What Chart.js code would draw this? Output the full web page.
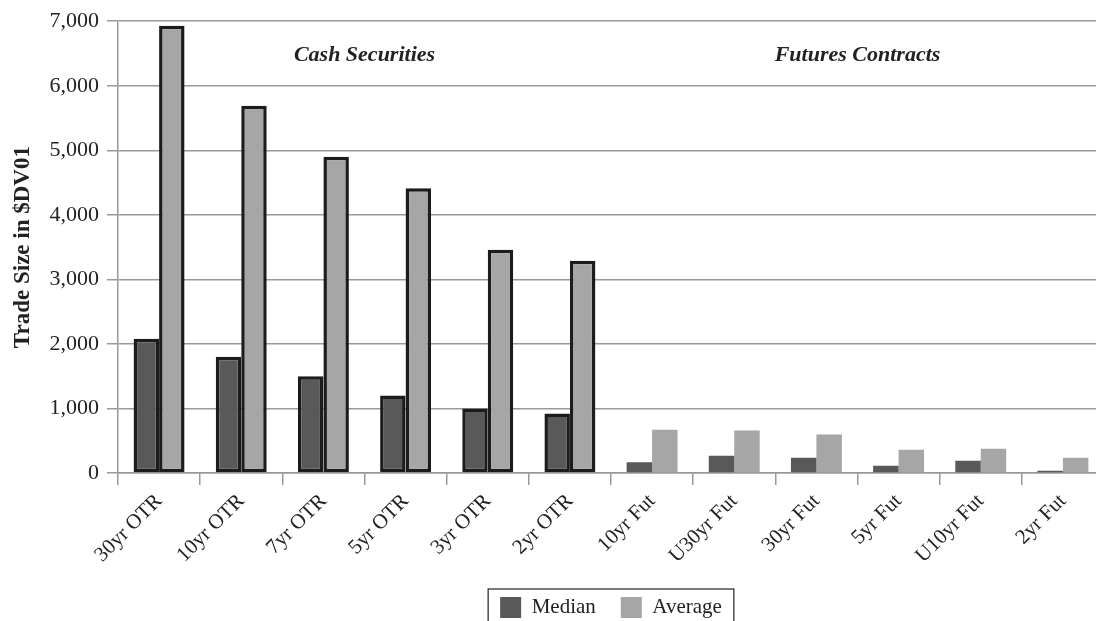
<!DOCTYPE html>
<html lang="en">
<head>
    <meta charset="UTF-8">
    <title>Trade Size in $DV01</title>
    <script src="https://cdn.jsdelivr.net/npm/chart.js@4.4.1/dist/chart.umd.min.js"></script>
    <style>
        html, body {
            margin: 0;
            padding: 0;
            background: #fff;
            overflow: hidden;
        }
        #chart {
            display: block;
        }
    </style>
</head>
<body>
    <canvas id="chart" width="1106" height="628"></canvas>

    <script>
        // Data
        const categories = ['30yr OTR', '10yr OTR', '7yr OTR', '5yr OTR', '3yr OTR', '2yr OTR',
                            '10yr Fut', 'U30yr Fut', '30yr Fut', '5yr Fut', 'U10yr Fut', '2yr Fut'];
        const medianValues = [2080, 1800, 1500, 1200, 1000, 920, 165, 268, 237, 113, 191, 36];
        const averageValues = [6930, 5690, 4900, 4410, 3460, 3290, 672, 657, 595, 362, 377, 237];
        const yTicks = [0, 1000, 2000, 3000, 4000, 5000, 6000, 7000];
        // group captions: text, x position (category index), y value
        const groupLabels = ['Cash Securities', 'Futures Contracts'];
        const groupLabelX = [2.5, 8.5];
        const groupLabelY = [6470, 6470];

        const SERIF = "'Liberation Serif', 'DejaVu Serif', serif";
        const INK = '#222';
        const GRID = '#999';

        // cash bars get a heavy outline, futures none
        const outline = ctx => ctx.dataIndex < 6 ? 3.5 : 0;

        const groupCaptions = {
            id: 'groupCaptions',
            afterDatasetsDraw(chart) {
                const c = chart.ctx;
                const xs = chart.scales.x, ys = chart.scales.y;
                c.save();
                c.font = 'italic bold 22px ' + SERIF;
                c.fillStyle = INK;
                c.textAlign = 'center';
                c.textBaseline = 'middle';
                groupLabels.forEach((t, i) => {
                    c.fillText(t, xs.getPixelForValue(groupLabelX[i]), ys.getPixelForValue(groupLabelY[i]));
                });
                c.restore();
            }
        };

        // box round the legend
        const legendFrame = {
            id: 'legendFrame',
            afterDraw(chart) {
                const hb = chart.legend.legendHitBoxes;
                if (!hb || !hb.length) return;
                const c = chart.ctx;
                const left = hb[0].left - 12;
                const right = hb[hb.length - 1].left + hb[hb.length - 1].width + 12;
                const top = hb[0].top - 8;
                c.save();
                c.strokeStyle = INK;
                c.lineWidth = 1.2;
                c.strokeRect(left, top, right - left, 60);
                c.restore();
            }
        };

        new Chart(document.getElementById('chart'), {
            type: 'bar',
            data: {
                labels: categories,
                datasets: [
                    {
                        label: 'Median',
                        data: medianValues,
                        backgroundColor: '#595959',
                        borderColor: '#1c1c1c',
                        borderWidth: outline,
                        borderSkipped: false
                    },
                    {
                        label: 'Average',
                        data: averageValues,
                        backgroundColor: '#a6a6a6',
                        borderColor: '#1c1c1c',
                        borderWidth: outline,
                        borderSkipped: false
                    }
                ]
            },
            options: {
                responsive: false,
                animation: false,
                devicePixelRatio: 1,
                datasets: {
                    bar: {
                        barPercentage: 1,
                        categoryPercentage: 0.62
                    }
                },
                layout: {
                    padding: { top: 21, right: 2, left: 0, bottom: 0 }
                },
                scales: {
                    x: {
                        grid: {
                            offset: true,
                            drawOnChartArea: false,
                            drawTicks: true,
                            tickLength: 12,
                            color: GRID,
                            lineWidth: 1.5
                        },
                        border: { color: GRID, width: 1.5 },
                        ticks: {
                            autoSkip: false,
                            maxRotation: 45,
                            minRotation: 45,
                            color: INK,
                            padding: 4,
                            font: { family: SERIF, size: 21 }
                        },
                        afterFit(scale) { scale.height = 99; }
                    },
                    y: {
                        min: 0,
                        max: 7000,
                        afterBuildTicks(scale) {
                            scale.ticks = yTicks.map(v => ({ value: v }));
                        },
                        grid: {
                            color: GRID,
                            lineWidth: 1.5,
                            tickLength: 11
                        },
                        border: { color: GRID, width: 1.5 },
                        ticks: {
                            color: INK,
                            padding: 8,
                            font: { family: SERIF, size: 22 },
                            callback: v => v.toLocaleString('en-US')
                        },
                        title: {
                            display: true,
                            text: 'Trade Size in $DV01',
                            color: INK,
                            padding: { top: 9, bottom: 6 },
                            font: { family: SERIF, size: 23, weight: 'bold' }
                        },
                        afterFit(scale) { scale.width = 118; }
                    }
                },
                plugins: {
                    legend: {
                        position: 'bottom',
                        fullSize: false,
                        labels: {
                            color: INK,
                            boxWidth: 21,
                            boxHeight: 21,
                            padding: 25,
                            font: { family: SERIF, size: 21 },
                            // plain swatches, no outline
                            generateLabels(chart) {
                                return Chart.defaults.plugins.legend.labels.generateLabels(chart)
                                    .map(item => Object.assign(item, { lineWidth: 0 }));
                            }
                        }
                    },
                    tooltip: { enabled: false },
                    title: { display: false }
                }
            },
            plugins: [groupCaptions, legendFrame]
        });
    </script>
</body>
</html>
